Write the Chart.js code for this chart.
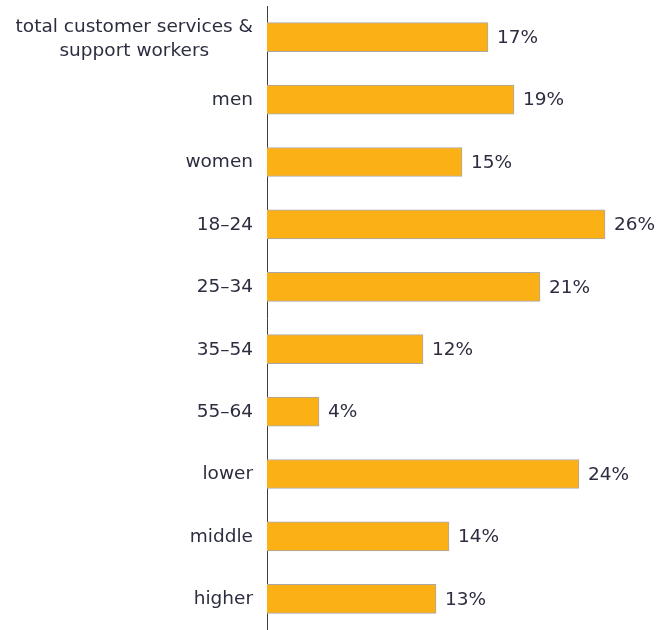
<!DOCTYPE html>
<html>
<head>
<meta charset="utf-8">
<script src="https://cdn.jsdelivr.net/npm/chart.js@4/dist/chart.umd.min.js"></script>
<style>
  html, body { margin: 0; padding: 0; background: #fff; }
  #wrap { width: 659px; height: 630px; position: relative; }
</style>
</head>
<body>
<div id="wrap"><canvas id="chart"></canvas></div>
<script>
// categories and shares (%)
const categories = [
  ['total customer services &', 'support workers'],
  'men', 'women', '18–24', '25–34', '35–54', '55–64', 'lower', 'middle', 'higher'
];
const shares = [17, 19, 15, 26, 21, 12, 4, 24, 14, 13];

const FONT = '18.5px "DejaVu Sans", Verdana, sans-serif';
const TEXT = '#2c2e40';

// y labels: block right-aligned to the axis, lines centred inside the block
const yLabels = {
  id: 'yLabels',
  afterDraw(chart) {
    const ctx = chart.ctx;
    const y = chart.scales.y;
    const right = chart.chartArea.left - 14;
    ctx.save();
    ctx.font = FONT;
    ctx.fillStyle = TEXT;
    ctx.textAlign = 'center';
    ctx.textBaseline = 'middle';
    categories.forEach((c, i) => {
      const lines = Array.isArray(c) ? c : [c];
      const w = Math.max(...lines.map(l => ctx.measureText(l).width));
      const cy = y.getPixelForValue(i) + (lines.length > 1 ? 2 : 0.5);
      const lh = 24;
      lines.forEach((l, j) => {
        ctx.fillText(l, right - w / 2, cy + (j - (lines.length - 1) / 2) * lh);
      });
    });
    ctx.restore();
  }
};

// value labels after each bar
const valueLabels = {
  id: 'valueLabels',
  afterDatasetsDraw(chart) {
    const ctx = chart.ctx;
    ctx.save();
    ctx.font = FONT;
    ctx.fillStyle = TEXT;
    ctx.textAlign = 'left';
    ctx.textBaseline = 'middle';
    chart.getDatasetMeta(0).data.forEach((bar, i) => {
      ctx.fillText(shares[i] + '%', bar.x + 9, bar.y + 1);
    });
    ctx.restore();
  }
};

new Chart(document.getElementById('chart'), {
  type: 'bar',
  data: {
    labels: categories,
    datasets: [{
      data: shares,
      backgroundColor: '#fbb116',
      borderColor: '#a8a8a8',
      borderWidth: 1,
      barThickness: 29
    }]
  },
  options: {
    indexAxis: 'y',
    responsive: true,
    maintainAspectRatio: false,
    animation: false,
    layout: { padding: { top: 6, bottom: -4, right: 2, left: 0 } },
    plugins: { legend: { display: false }, tooltip: { enabled: false } },
    scales: {
      x: { display: false, min: 0, max: 30 },
      y: {
        ticks: { display: false },
        grid: { display: false, drawTicks: false },
        border: { display: true, color: '#3c3c3c', width: 1 },
        afterFit(scale) { scale.width = 267; }
      }
    }
  },
  plugins: [yLabels, valueLabels]
});
</script>
</body>
</html>
